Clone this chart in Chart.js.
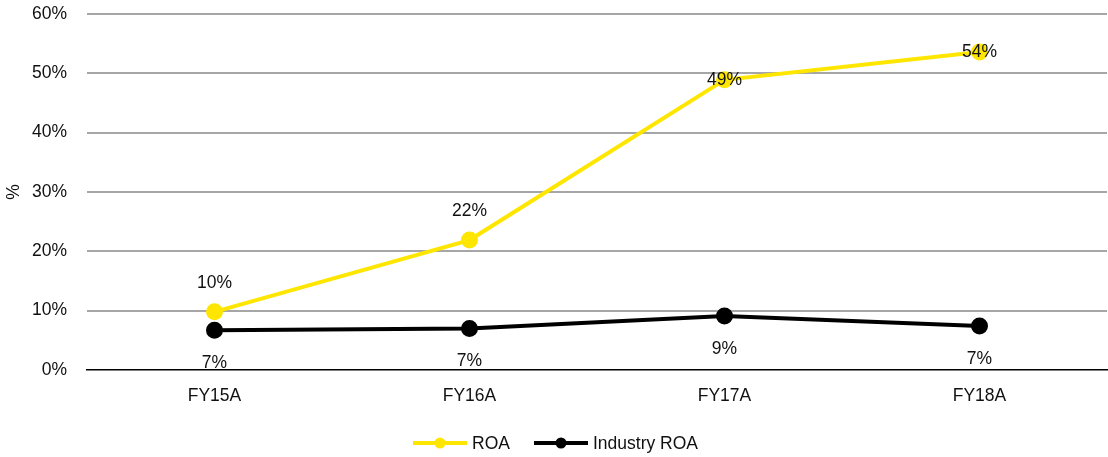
<!DOCTYPE html>
<html>
<head>
<meta charset="utf-8">
<title>ROA vs Industry ROA</title>
<script src="https://cdn.jsdelivr.net/npm/chart.js@4.4.1/dist/chart.umd.min.js"></script>
<style>
    html, body { margin: 0; padding: 0; background: #fff; }
    #wrap { width: 1108px; height: 457px; }
</style>
</head>
<body>
<div id="wrap"><canvas id="roaChart"></canvas></div>
<script>
// Return on assets, company vs industry (%)
const years = ['FY15A', 'FY16A', 'FY17A', 'FY18A'];
const roa = [9.8, 21.9, 48.9, 53.6];
const industryRoa = [6.7, 7.0, 9.1, 7.4];
const yTicks = [0, 10, 20, 30, 40, 50, 60];

const FONT = '"Liberation Sans", Arial, sans-serif';
const FONT_SIZE = 17.5;
const YELLOW = '#FFE600';
const BLACK = '#000000';

// Where each value label sits relative to its point
const labelPlacement = [
    ['above', 'above', 'center', 'center'],
    ['below', 'below', 'below', 'below']
];

const valueLabels = {
    id: 'valueLabels',
    afterDatasetsDraw(chart) {
        const ctx = chart.ctx;
        ctx.save();
        ctx.font = FONT_SIZE + 'px ' + FONT;
        ctx.fillStyle = '#111';
        ctx.textAlign = 'center';
        ctx.textBaseline = 'middle';
        chart.data.datasets.forEach((ds, i) => {
            chart.getDatasetMeta(i).data.forEach((pt, j) => {
                const place = labelPlacement[i][j];
                let y = pt.y;
                if (place === 'above') y -= 29;
                if (place === 'below') y += 33;
                ctx.fillText(Math.round(ds.data[j]) + '%', pt.x, y);
            });
        });
        ctx.restore();
    }
};

// Excel-style legend: short line with a dot in the middle
const lineLegend = {
    id: 'lineLegend',
    afterDraw(chart) {
        const ctx = chart.ctx;
        const y = 443;
        const items = [
            { x: 413, label: 'ROA', ds: chart.data.datasets[0] },
            { x: 534, label: 'Industry ROA', ds: chart.data.datasets[1] }
        ];
        ctx.save();
        ctx.font = FONT_SIZE + 'px ' + FONT;
        ctx.textBaseline = 'middle';
        items.forEach(it => {
            ctx.strokeStyle = it.ds.borderColor;
            ctx.lineWidth = 4;
            ctx.beginPath();
            ctx.moveTo(it.x, y);
            ctx.lineTo(it.x + 54, y);
            ctx.stroke();
            ctx.fillStyle = it.ds.borderColor;
            ctx.beginPath();
            ctx.arc(it.x + 27, y, 5.5, 0, Math.PI * 2);
            ctx.fill();
            ctx.fillStyle = '#111';
            ctx.fillText(it.label, it.x + 59, y + 1);
        });
        ctx.restore();
    }
};

new Chart(document.getElementById('roaChart'), {
    type: 'line',
    data: {
        labels: years,
        datasets: [
            {
                label: 'ROA',
                data: roa,
                borderColor: YELLOW,
                backgroundColor: YELLOW,
                borderWidth: 4,
                pointRadius: 6.5,
                pointHoverRadius: 6.5,
                tension: 0
            },
            {
                label: 'Industry ROA',
                data: industryRoa,
                borderColor: BLACK,
                backgroundColor: BLACK,
                borderWidth: 4,
                pointRadius: 6.5,
                pointHoverRadius: 6.5,
                tension: 0
            }
        ]
    },
    options: {
        responsive: true,
        maintainAspectRatio: false,
        animation: false,
        layout: { autoPadding: false, padding: { top: 14, right: 1, bottom: 0, left: 0 } },
        plugins: {
            legend: { display: false },
            tooltip: { enabled: false }
        },
        scales: {
            x: {
                offset: true,
                grid: { display: false, drawTicks: false },
                border: { display: true, color: BLACK, width: 1.5 },
                ticks: { color: '#111', font: { family: FONT, size: FONT_SIZE }, padding: 16 },
                afterFit(scale) {
                    scale.height = 87;
                    scale.paddingLeft = 0;
                    scale.paddingRight = 0;
                }
            },
            y: {
                min: 0,
                max: 60,
                afterBuildTicks(scale) { scale.ticks = yTicks.map(v => ({ value: v })); },
                grid: {
                    color: '#A6A6A6',
                    lineWidth: c => (c.tick && c.tick.value === 0 ? 0 : 2),
                    drawTicks: false
                },
                border: { display: false },
                ticks: {
                    color: '#111',
                    font: { family: FONT, size: FONT_SIZE },
                    padding: 20,
                    callback: v => v + '%'
                },
                title: {
                    display: true,
                    text: '%',
                    color: '#111',
                    font: { family: FONT, size: FONT_SIZE },
                    padding: { top: 4, bottom: 0 }
                },
                afterFit(scale) {
                    scale.width = 87;
                    scale.paddingTop = 0;
                    scale.paddingBottom = 0;
                }
            }
        }
    },
    plugins: [valueLabels, lineLegend]
});
</script>
</body>
</html>
